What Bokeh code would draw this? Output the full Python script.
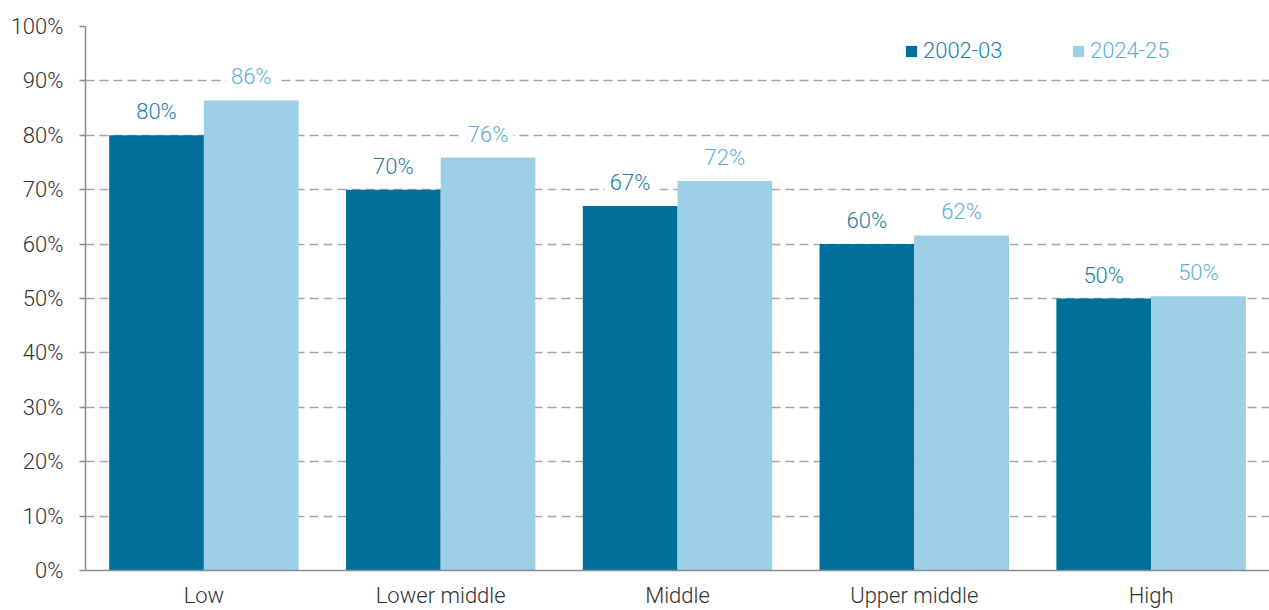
from bokeh.plotting import figure
from bokeh.models import (ColumnDataSource, LabelSet, Legend, LegendItem,
                          FactorRange, FixedTicker, CustomJSTickFormatter)
from bokeh.core.properties import value
from bokeh.transform import dodge
from bokeh.embed import file_html
from bokeh.resources import INLINE

categories = ["Low", "Lower middle", "Middle", "Upper middle", "High"]
series_names = ["2002-03", "2024-25"]
values_2002 = [80.0, 70.0, 67.0, 60.0, 50.0]
values_2024 = [86.4, 75.9, 71.6, 61.6, 50.4]
y_ticks = [0, 10, 20, 30, 40, 50, 60, 70, 80, 90, 100]

DARK = "#00709b"
LIGHT = "#9dd0e6"
DARK_TXT = "#1a7fa6"
LIGHT_TXT = "#5bb0d9"
FONT = "'Roboto Light', Roboto, sans-serif"
FS = "22px"

src = ColumnDataSource(dict(
    cat=categories,
    v1=values_2002,
    v2=values_2024,
    l1=[f"{round(v):d}%" for v in values_2002],
    l2=[f"{round(v):d}%" for v in values_2024],
))

p = figure(x_range=FactorRange(factors=categories, start=0, end=4.985), y_range=(0, 100),
           width=1269, height=610, output_backend="svg", toolbar_location=None,
           min_border_left=85, min_border_right=0, min_border_top=26, min_border_bottom=40)
p.outline_line_color = None
p.background_fill_color = "white"
p.border_fill_color = "white"

r1 = p.vbar(x=dodge("cat", -0.2, range=p.x_range), top="v1", width=0.4, bottom=0,
            source=src, fill_color=DARK, line_color=None)
r2 = p.vbar(x=dodge("cat", 0.2, range=p.x_range), top="v2", width=0.4, bottom=0,
            source=src, fill_color=LIGHT, line_color=None)


def make_labels(xoff, ycol, tcol, color):
    return LabelSet(x=dodge("cat", xoff, range=p.x_range), y=ycol, text=tcol, source=src,
                    text_align="center", text_baseline="bottom", y_offset=11,
                    text_font=value(FONT), text_font_size=value(FS), text_color=color,
                    background_fill_color="white",
                    border_line_color="white", border_line_width=10)


p.add_layout(make_labels(-0.2, "v1", "l1", DARK_TXT))
p.add_layout(make_labels(0.2, "v2", "l2", LIGHT_TXT))

# axes
p.xaxis.axis_line_color = "#8c8c8c"
p.xaxis.axis_line_width = 1.5
p.xaxis.major_tick_line_color = None
p.xaxis.minor_tick_line_color = None
p.xaxis.major_label_standoff = 6
p.xaxis.major_label_text_font = FONT
p.xaxis.major_label_text_font_size = FS
p.xaxis.major_label_text_color = "#333333"

p.yaxis.ticker = FixedTicker(ticks=y_ticks)
p.yaxis.formatter = CustomJSTickFormatter(code="return tick.toFixed(0) + '%';")
p.yaxis.axis_line_color = "#8c8c8c"
p.yaxis.axis_line_width = 1.5
p.yaxis.major_tick_line_color = "#8c8c8c"
p.yaxis.major_tick_line_width = 1.5
p.yaxis.major_tick_in = 0
p.yaxis.major_tick_out = 6
p.yaxis.minor_tick_line_color = None
p.yaxis.major_label_standoff = 16
p.yaxis.major_label_text_font = FONT
p.yaxis.major_label_text_font_size = FS
p.yaxis.major_label_text_color = "#333333"

p.xgrid.grid_line_color = None
p.ygrid.grid_line_color = "#a6a6a6"
p.ygrid.grid_line_width = 1.5
p.ygrid.grid_line_dash = "9 5"

leg1 = Legend(items=[LegendItem(label=series_names[0], renderers=[r1])],
              location=(819, 507), orientation="horizontal",
              border_line_color=None, background_fill_alpha=0,
              label_text_font=FONT, label_text_font_size=FS, label_text_color=DARK_TXT,
              glyph_width=14, glyph_height=14, label_standoff=5, padding=0, margin=0)
leg2 = Legend(items=[LegendItem(label=series_names[1], renderers=[r2])],
              location=(986, 507), orientation="horizontal",
              border_line_color=None, background_fill_alpha=0,
              label_text_font=FONT, label_text_font_size=FS, label_text_color=LIGHT_TXT,
              glyph_width=14, glyph_height=14, label_standoff=5, padding=0, margin=0)
p.add_layout(leg1, "center")
p.add_layout(leg2, "center")

open("out.html", "w").write(file_html(p, INLINE))
